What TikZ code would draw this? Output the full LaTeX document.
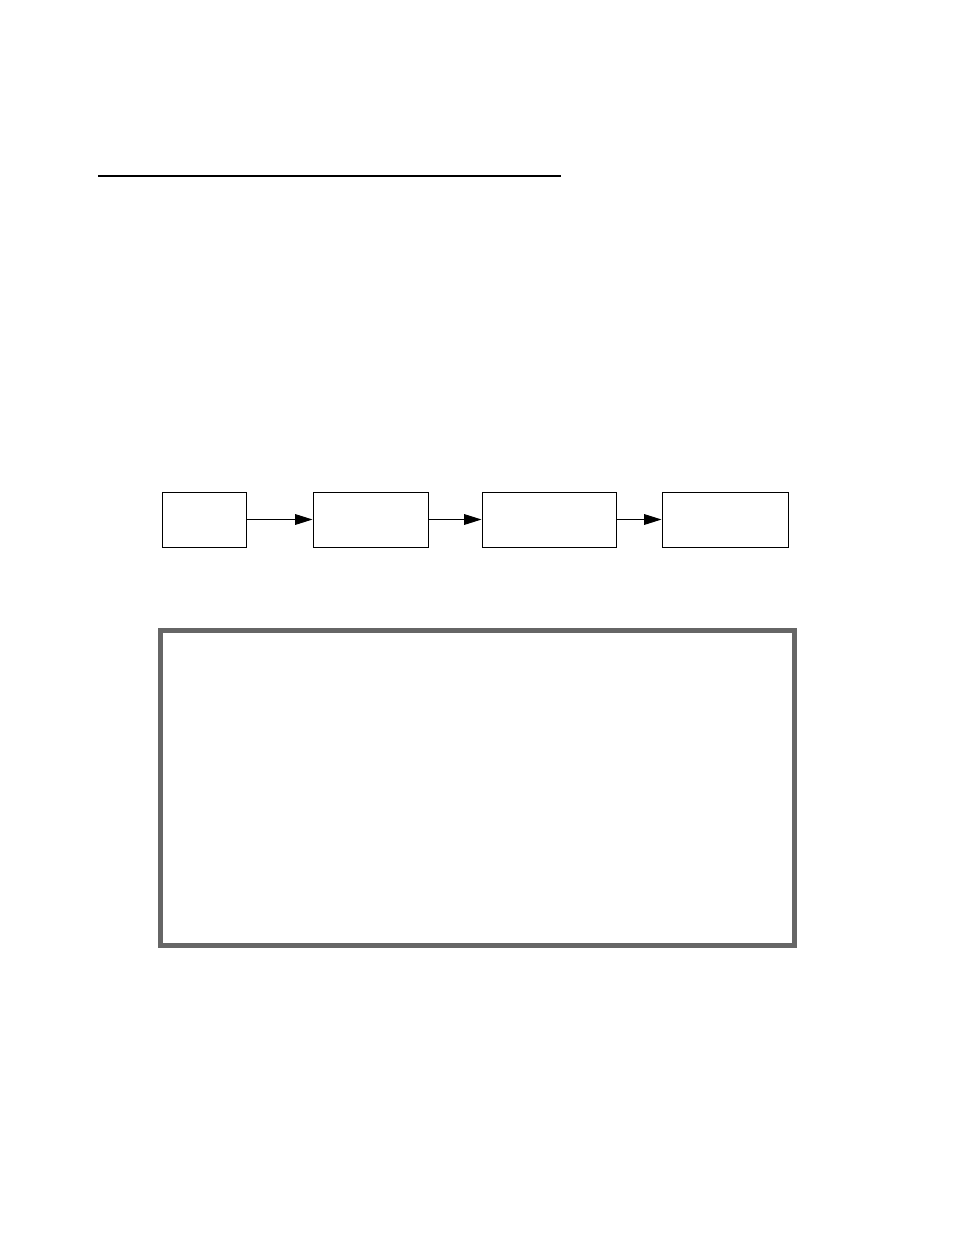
\documentclass[tikz,border=0pt]{standalone}
\usetikzlibrary{arrows.meta}
\tikzset{
    stagebox/.style={draw, line width=.75pt, inner sep=0pt, minimum height=41.25pt},
    flow/.style={line width=.75pt, -{Triangle[length=13pt, width=8pt]}}
}
\begin{document}
\begin{tikzpicture}[x=.75pt, y=-.75pt]
        \useasboundingbox (0, 0) rectangle (954, 1235);

        %%top rule
        \coordinate (ruleL) at (98, 176);
        \coordinate (ruleR) at (561, 176);
        \draw[line width=1.8pt](ruleL) to (ruleR);

        %%stage boxes
        \node[stagebox, minimum width=63pt](s1) at (204, 519.5) {};
        \node[stagebox, minimum width=86.25pt](s2) at (370.5, 519.5) {};
        \node[stagebox, minimum width=100.5pt](s3) at (549, 519.5) {};
        \node[stagebox, minimum width=94.5pt](s4) at (725, 519.5) {};

        %%connectors
        \draw[flow](s1) to (s2);
        \draw[flow](s2) to (s3);
        \draw[flow](s3) to (s4);

        %%grey frame
        \draw[line width=3.75pt, color={rgb,255:red,102;green,102;blue,102}](160, 630) rectangle (794, 945);

    \end{tikzpicture}
\end{document}
